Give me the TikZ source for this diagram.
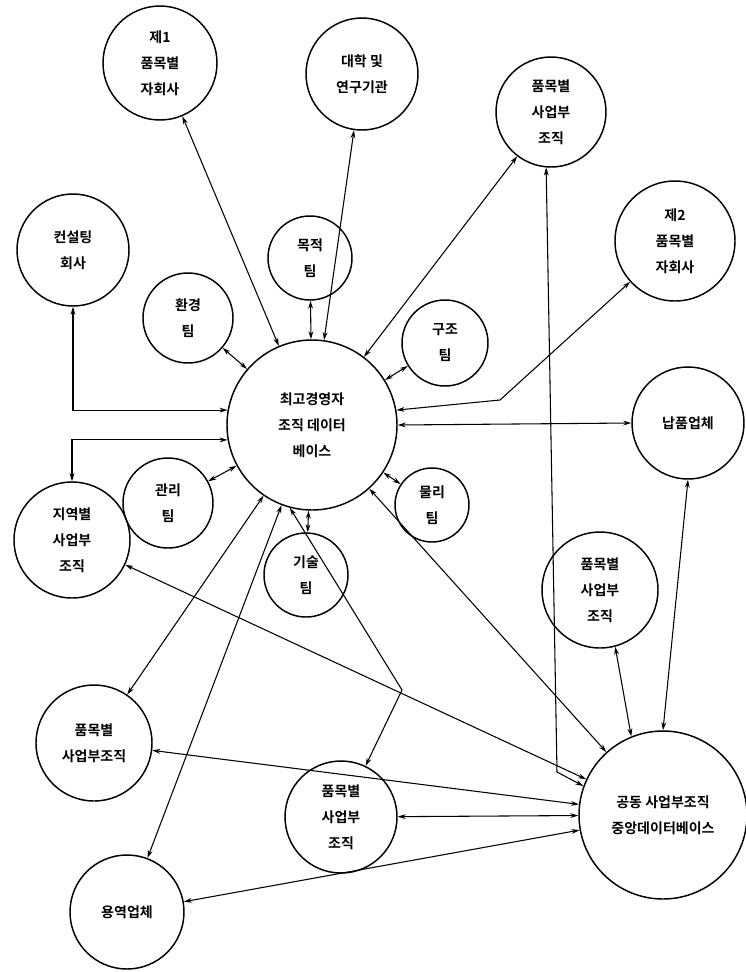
\documentclass[tikz,border=0pt]{standalone}
\usepackage{fontspec}
\setmainfont{Noto Sans CJK KR}[BoldFont={Noto Sans CJK KR Bold}]
\usetikzlibrary{arrows.meta,calc}
\begin{document}
\begin{tikzpicture}[x=0.75pt,y=-0.75pt,
  circ/.style={circle,draw=black,line width=1.1pt,minimum size=#1*1.5pt,inner sep=0pt,
    align=center,font=\fontsize{10.5}{19.5}\selectfont\bfseries},
  link/.style={line width=0.8pt,{Stealth[length=6pt,width=3.6pt]}-{Stealth[length=6pt,width=3.6pt]}}]
\useasboundingbox[fill=white] (0,0) rectangle (746,972);
% nodes
\node[circ=57] (A) at (160,63) {제1\\품목별\\자회사};
\node[circ=56] (B) at (362,74) {대학 및\\연구기관};
\node[circ=55] (C) at (551,112) {품목별\\사업부\\조직};
\node[circ=60] (D) at (675,241) {제2\\품목별\\자회사};
\node[circ=56] (E) at (73,250) {컨설팅\\회사};
\node[circ=42] (F) at (310,258) {목적\\팀};
\node[circ=45] (H) at (188,318) {환경\\팀};
\node[circ=43] (S) at (445,343) {구조\\팀};
\node[circ=85] (M) at (312,425) {최고경영자\\조직 데이터\\베이스};
\node[circ=56] (N) at (688,423) {납품업체};
\node[circ=45] (K) at (168,503) {관리\\팀};
\node[circ=37] (Q) at (432,505) {물리\\팀};
\node[circ=58] (Z) at (72,540) {지역별\\사업부\\조직};
\node[circ=42] (T) at (306,575) {기술\\팀};
\node[circ=58] (P) at (600,590) {품목별\\사업부\\조직};
\node[circ=58] (L) at (94,743) {품목별\\사업부조직};
\node[circ=56] (R) at (341,817) {품목별\\사업부\\조직};
\node[circ=84] (G) at (663,815) {공동 사업부조직\\중앙데이터베이스};
\node[circ=57] (Y) at (127,912) {용역업체};
% bend points
\coordinate (k2) at (500,400);
\coordinate (kc) at (557,772);
\coordinate (kb) at (402,690);
% short links to center
\draw[link] (F) -- (M);
\draw[link] (H) -- (M);
\draw[link] (S) -- (M);
\draw[link] (K) -- (M);
\draw[link] (Q) -- (M);
\draw[link] (T) -- (M);
% long links to center
\draw[link] (A) -- (M);
\draw[link] (B) -- (M);
\draw[link] (C) -- (M);
\draw[link] (M.10) -- (k2) -- (D);
\draw[link] (E.south) |- (M.170);
\draw[link] (Z.north) |- (M.190);
\draw[link] (M.0) -- (N.180);
\draw[link] (M) -- (G);
\draw[link] (M) -- (L);
\draw[link] (M) -- (Y);
\draw[link] (M.255) -- (kb) -- (R);
% links to common database
\draw[link] (C.265) -- (kc) -- (G.160);
\draw[link] (N.south) -- (G.north);
\draw[link] (P.285) -- (G.112);
\draw[link] (Z) -- (G);
\draw[link] (L) -- (G);
\draw[link] (R) -- (G);
\draw[link] (Y) -- (G);
\end{tikzpicture}
\end{document}
